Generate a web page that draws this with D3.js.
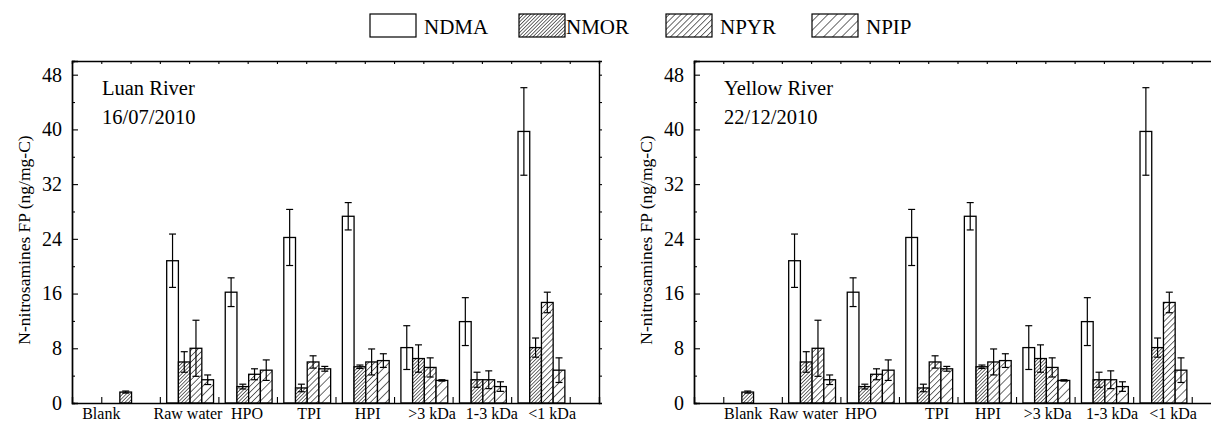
<!DOCTYPE html>
<html>
<head>
<meta charset="utf-8">
<script src="https://cdn.jsdelivr.net/npm/d3@7"></script>
<style>
  body { margin: 0; background: #fff; }
  svg { display: block; font-family: "Liberation Serif", "Times New Roman", serif; }
</style>
</head>
<body>
<svg id="chart" width="1211" height="423"></svg>
<script>
// data (both panels show the same values)
const categories = ["Blank", "Raw water", "HPO", "TPI", "HPI", ">3 kDa", "1-3 kDa", "<1 kDa"];
const seriesNames = ["NDMA", "NMOR", "NPYR", "NPIP"];

const ndma    = [null, 20.8, 16.2, 24.2, 27.3, 8.1, 11.9, 39.7];
const ndmaErr = [null, 3.9, 2.1, 4.1, 2.0, 3.2, 3.5, 6.4];
const nmor    = [1.6, 6.0, 2.4, 2.2, 5.3, 6.5, 3.4, 8.1];
const nmorErr = [0.15, 1.5, 0.35, 0.55, 0.25, 2.0, 1.1, 1.4];
const npyr    = [null, 8.0, 4.2, 6.0, 6.0, 5.2, 3.4, 14.7];
const npyrErr = [null, 4.1, 0.8, 0.9, 1.9, 1.4, 1.3, 1.5];
const npip    = [null, 3.4, 4.8, 5.0, 6.2, 3.3, 2.4, 4.8];
const npipErr = [null, 0.7, 1.5, 0.35, 1.0, 0.1, 0.7, 1.8];

const yTicks = [0, 8, 16, 24, 32, 40, 48];

// where the category labels sit (in x-axis units) for each panel
const leftLabelAt  = [0.5, 1.98, 2.99, 4.05, 5.05, 6.15, 7.17, 8.2];
const rightLabelAt = [0.84, 1.87, 2.85, 4.15, 5.02, 6.04, 7.14, 8.18];

var series = [
  {name: "NDMA", values: ndma, err: ndmaErr, fill: "#fff"},
  {name: "NMOR", values: nmor, err: nmorErr, fill: "url(#hatchA)"},
  {name: "NPYR", values: npyr, err: npyrErr, fill: "url(#hatchB)"},
  {name: "NPIP", values: npip, err: npipErr, fill: "url(#hatchC)"}
];

var svg = d3.select("#chart");
var defs = svg.append("defs");

function addHatch(id, gap) {
  var p = defs.append("pattern")
    .attr("id", id)
    .attr("patternUnits", "userSpaceOnUse")
    .attr("width", gap).attr("height", gap)
    .attr("patternTransform", "rotate(45)");
  p.append("rect").attr("width", gap).attr("height", gap).attr("fill", "#fff");
  p.append("line")
    .attr("x1", 0).attr("y1", 0).attr("x2", 0).attr("y2", gap)
    .attr("stroke", "#000").attr("stroke-width", 1.15);
}
addHatch("hatchA", 2.5);
addHatch("hatchB", 4.2);
addHatch("hatchC", 6.4);

var panelW = 527, plotTop = 61, plotBottom = 403;

function drawPanel(x0, title, date, labelAt) {
  var x = d3.scaleLinear().domain([0, 9]).range([x0, x0 + panelW]);
  var y = d3.scaleLinear().domain([0, 50]).range([plotBottom, plotTop]);
  var g = svg.append("g");

  var barW = x(0.2) - x(0);

  // bars + error bars
  series.forEach(function(s, j) {
    var pts = [];
    s.values.forEach(function(v, i) {
      if (v !== null) pts.push({i: i, v: v, e: s.err[i]});
    });
    var bx = function(d) { return x(d.i + 1 + (j - 2) * 0.2) + 1; };

    g.selectAll(null).data(pts).enter().append("rect")
      .attr("x", bx)
      .attr("y", function(d) { return y(d.v); })
      .attr("width", barW)
      .attr("height", function(d) { return y(0) - y(d.v); })
      .attr("fill", s.fill)
      .attr("stroke", "#000")
      .attr("stroke-width", 1.3);

    var eg = g.selectAll(null).data(pts).enter().append("g")
      .attr("stroke", "#000").attr("stroke-width", 1.2);
    eg.append("line")
      .attr("x1", function(d) { return bx(d) + barW / 2; })
      .attr("x2", function(d) { return bx(d) + barW / 2; })
      .attr("y1", function(d) { return y(d.v + d.e); })
      .attr("y2", function(d) { return y(d.v - d.e); });
    [1, -1].forEach(function(sg) {
      eg.append("line")
        .attr("x1", function(d) { return bx(d) + barW / 2 - 3.5; })
        .attr("x2", function(d) { return bx(d) + barW / 2 + 3.5; })
        .attr("y1", function(d) { return y(d.v + sg * d.e); })
        .attr("y2", function(d) { return y(d.v + sg * d.e); });
    });
  });

  // axes
  var halfTicks = d3.range(0.5, 9, 1);
  var allHalf = d3.range(0.5, 9, 0.5);
  var minorY = d3.range(4, 50, 8);

  g.append("g").attr("transform", "translate(0," + plotBottom + ")")
    .call(d3.axisBottom(x).tickValues(halfTicks).tickSize(-6).tickFormat(""));
  g.append("g").attr("transform", "translate(0," + plotTop + ")")
    .call(d3.axisTop(x).tickValues(allHalf).tickSize(-3).tickFormat(""));

  g.append("g").attr("transform", "translate(" + x0 + ",0)")
    .call(d3.axisLeft(y).tickValues(yTicks).tickSize(-6).tickPadding(10));
  g.append("g").attr("transform", "translate(" + x0 + ",0)")
    .call(d3.axisLeft(y).tickValues(minorY).tickSize(-3).tickFormat(""));
  g.append("g").attr("transform", "translate(" + (x0 + panelW) + ",0)")
    .call(d3.axisRight(y).tickValues(d3.range(0, 50, 4)).tickSize(3).tickFormat(""));

  g.selectAll(".domain").attr("stroke", "#000").attr("stroke-width", 1.4);
  g.selectAll(".tick line").attr("stroke", "#000").attr("stroke-width", 1.1);
  g.selectAll(".tick text")
    .attr("font-family", "Liberation Serif").attr("font-size", 20).attr("fill", "#000");

  // category labels
  g.selectAll(null).data(categories).enter().append("text")
    .attr("x", function(d, i) { return x(labelAt[i]); })
    .attr("y", 419)
    .attr("text-anchor", "middle")
    .attr("font-size", 16)
    .text(function(d) { return d; });

  // y title
  g.append("text")
    .attr("transform", "translate(" + (x0 - 42) + "," + ((plotTop + plotBottom) / 2 + 8) + ") rotate(-90)")
    .attr("text-anchor", "middle")
    .attr("font-size", 17.5)
    .text("N-nitrosamines FP (ng/mg-C)");

  g.append("text").attr("x", x0 + 30).attr("y", 95).attr("font-size", 20.5).text(title);
  g.append("text").attr("x", x0 + 30).attr("y", 124).attr("font-size", 20.5).text(date);
}

drawPanel(72, "Luan River", "16/07/2010", leftLabelAt);
drawPanel(694, "Yellow River", "22/12/2010", rightLabelAt);

// legend
var legendX = [370, 519, 666, 812];
var leg = svg.append("g");
series.forEach(function(s, j) {
  leg.append("rect")
    .attr("x", legendX[j]).attr("y", 14)
    .attr("width", 46).attr("height", 23)
    .attr("fill", s.fill).attr("stroke", "#000").attr("stroke-width", 1.2);
  leg.append("text")
    .attr("x", legendX[j] + (j === 1 ? 47 : 54)).attr("y", 34)
    .attr("font-size", 21)
    .text(seriesNames[j]);
});
</script>
</body>
</html>
